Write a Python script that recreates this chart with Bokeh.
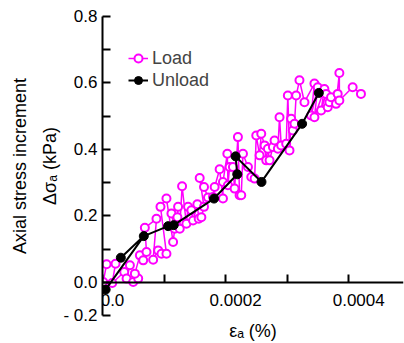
from bokeh.plotting import figure
from bokeh.models import Range1d, FixedTicker, Legend, LegendItem, LinearAxis
from bokeh.core.properties import value
from bokeh.embed import file_html
from bokeh.resources import INLINE

# ---- data (strain in %, stress increment in kPa) ----
load_x = [0.0000012, 0.0000066, 0.0000212, 0.0000158, 0.0000353, 0.0000445, 0.0000391, 0.0000499,
          0.000058, 0.0000526, 0.0000607, 0.0000661, 0.0000715, 0.0000688, 0.0000877, 0.0000823,
          0.0000904, 0.0000958, 0.0001039, 0.0000942, 0.0001039, 0.0001147, 0.0001174, 0.000112,
          0.0001228, 0.0001217, 0.0001255, 0.0001293, 0.0001363, 0.000139, 0.0001444, 0.0001471,
          0.0001541, 0.0001563, 0.0001606, 0.0001649, 0.0001579, 0.0001649, 0.0001714, 0.0001795,
          0.0001822, 0.0001903, 0.0001957, 0.0001957, 0.0002028, 0.0002038, 0.0002065, 0.0002119,
          0.0002146, 0.00022, 0.0002227, 0.0002254, 0.0002282, 0.0002363, 0.0002417, 0.0002471,
          0.0002498, 0.0002552, 0.0002579, 0.0002633, 0.000266, 0.0002687, 0.0002714, 0.0002768,
          0.0002795, 0.0002849, 0.0002876, 0.0002903, 0.0002984, 0.0003011, 0.0003038, 0.0003065,
          0.0003092, 0.0003119, 0.0003146, 0.00032, 0.0003281, 0.0003443, 0.0003389, 0.0003497,
          0.0003443, 0.0003605, 0.0003551, 0.0003632, 0.0003659, 0.0003686, 0.0003713, 0.0003821,
          0.0003794, 0.0003848, 0.0003848, 0.0004064, 0.0004199]
load_y = [0.001, 0.054, 0.056, -0.002, 0.031, 0.051, 0.011, 0.001,
          0.011, 0.026, 0.081, 0.066, 0.091, 0.164, 0.191, 0.068,
          0.096, 0.086, 0.086, 0.227, 0.252, 0.121, 0.161, 0.207,
          0.227, 0.196, 0.161, 0.289, 0.176, 0.227, 0.217, 0.186,
          0.235, 0.191, 0.196, 0.227, 0.314, 0.287, 0.255, 0.257,
          0.287, 0.34, 0.252, 0.302, 0.387, 0.292, 0.347, 0.347,
          0.282, 0.437, 0.262, 0.262, 0.387, 0.347, 0.317, 0.312,
          0.442, 0.382, 0.447, 0.412, 0.367, 0.402, 0.367, 0.407,
          0.427, 0.402, 0.497, 0.412, 0.417, 0.562, 0.397, 0.492,
          0.457, 0.477, 0.562, 0.608, 0.542, 0.598, 0.502, 0.587,
          0.497, 0.582, 0.517, 0.567, 0.527, 0.542, 0.557, 0.567,
          0.537, 0.63, 0.547, 0.587, 0.567]

unload_x = [0.0000051, 0.0000298, 0.0000671, 0.0001066, 0.0001157, 0.0001812,
            0.000219, 0.0002162, 0.0002583, 0.0003243, 0.0003514]
unload_y = [-0.022, 0.074, 0.139, 0.169, 0.172, 0.252, 0.325, 0.379, 0.302, 0.477, 0.57]
unload_path = [1, 2, 0, 2, 3, 4, 5, 6, 7, 8, 9, 10]

y_major = [-0.1, 0.0, 0.2, 0.4, 0.6, 0.8]
y_minor = [0.1, 0.3, 0.5, 0.7]
y_labels = ["- 0.2", "0.0", "0.2", "0.4", "0.6", "0.8"]
x_ticks = [0.0, 0.0001, 0.0002, 0.0003, 0.0004]
x_label_vals = [0.0, 0.0002, 0.0004]
x_labels = ["0.0", "0.0002", "0.0004"]

FONT = "Liberation Sans"
MAG = "#ff00ff"

p = figure(width=404, height=343, output_backend="svg", toolbar_location=None,
           x_range=Range1d(0.0, 0.000489), y_range=Range1d(-0.1, 0.8),
           x_axis_location=None,
           min_border_left=102, min_border_right=1, min_border_top=16, min_border_bottom=28)
p.outline_line_color = None
p.grid.visible = False
p.background_fill_color = "white"

# y axis
ya = p.yaxis[0]
ya.ticker = FixedTicker(ticks=y_major, minor_ticks=y_minor)
ya.major_label_overrides = {v: s for v, s in zip(y_major, y_labels)}
ya.major_tick_in = 8
ya.major_tick_out = 0
ya.minor_tick_in = 8
ya.minor_tick_out = 0
ya.axis_line_color = "black"
ya.axis_line_width = 2
ya.major_tick_line_width = 2
ya.minor_tick_line_width = 2
ya.major_label_text_font = FONT
ya.major_label_text_font_size = "17px"
ya.major_label_text_color = "black"
ya.major_label_standoff = 5
ya.axis_label = "Axial stress increment\nΔσₐ (kPa)"
ya.axis_label_text_font = FONT
ya.axis_label_text_font_size = "18px"
ya.axis_label_text_font_style = "normal"
ya.axis_label_text_color = "black"
ya.axis_label_text_line_height = 1.5
ya.axis_label_standoff = 0

# x axis drawn at y = 0 (line and ticks only)
xa = LinearAxis(fixed_location=0, ticker=FixedTicker(ticks=x_ticks),
                major_tick_in=8, major_tick_out=0, minor_tick_in=0, minor_tick_out=0,
                axis_line_color="black", axis_line_width=2, major_tick_line_width=2,
                major_label_text_font=FONT, major_label_text_font_size="17px",
                major_label_text_color=None)
p.add_layout(xa, "below")

# x axis title in the bottom panel
xt = LinearAxis(ticker=FixedTicker(ticks=[]), axis_line_color=None,
                major_tick_line_color=None, minor_tick_line_color=None,
                major_label_text_color=None, major_label_text_font_size="17px",
                major_label_standoff=0,
                axis_label="εₐ (%)", axis_label_text_font=FONT,
                axis_label_text_font_size="18px", axis_label_text_font_style="normal",
                axis_label_text_color="black", axis_label_standoff=5)
p.add_layout(xt, "below")

p.text(x=x_label_vals, y=[0.0] * len(x_label_vals), text=x_labels,
       text_font=value(FONT), text_font_size="17px", text_color="black",
       text_align="center", text_baseline="top", x_offset=10, y_offset=12)

# Load series
l_line = p.line(load_x, load_y, line_color=MAG, line_width=1.5)
l_pts = p.scatter(load_x, load_y, marker="circle", size=8, line_color=MAG,
                  line_width=2, fill_color="white")

# Unload series
ux = [unload_x[i] for i in unload_path]
uy = [unload_y[i] for i in unload_path]
u_line = p.line(ux, uy, line_color="black", line_width=2)
u_pts = p.scatter(unload_x, unload_y, marker="circle", size=9, line_color="black",
                  fill_color="black")

legend = Legend(items=[LegendItem(label="Load", renderers=[l_line, l_pts]),
                       LegendItem(label="Unload", renderers=[u_line, u_pts])],
                location=(26, 224), padding=0, margin=0, spacing=0,
                label_text_font=FONT, label_text_font_size="18px",
                label_height=22, glyph_width=20, glyph_height=22,
                label_standoff=4, border_line_color=None,
                background_fill_alpha=0)
p.add_layout(legend)

open("out.html", "w").write(file_html(p, INLINE))
